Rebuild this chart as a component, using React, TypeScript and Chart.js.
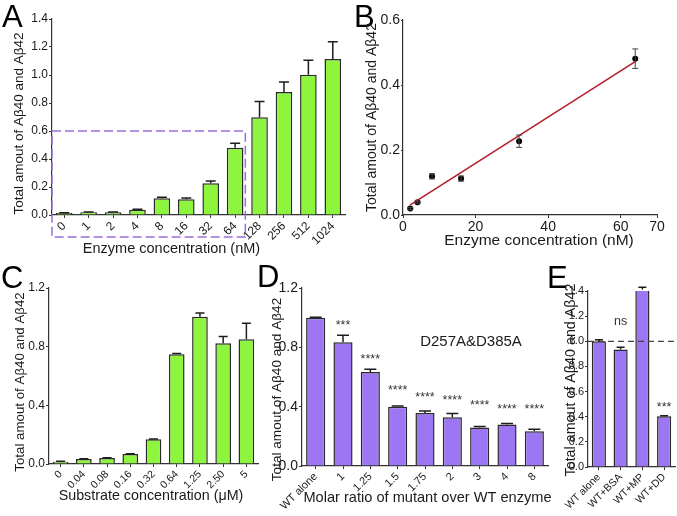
import React, { useEffect, useRef } from 'react';
import { Chart, registerables } from 'chart.js';
Chart.register(...registerables);

const W = 677;
const H = 516;
const FONT = "'Liberation Sans', Arial, Helvetica, sans-serif";
const GREEN = '#8ef53f';
const PURPLE = '#9d76f4';
const EDGE = '#2a2a2a';

// ---------- Panel A ----------
const aLabels = ['0', '1', '2', '4', '8', '16', '32', '64', '128', '256', '512', '1024'];
const aValues = [0.014, 0.02, 0.019, 0.038, 0.119, 0.112, 0.226, 0.481, 0.698, 0.879, 1.002, 1.114];
const aErrors = [0.002, 0.002, 0.002, 0.003, 0.007, 0.009, 0.017, 0.031, 0.112, 0.071, 0.103, 0.124];
const aBoxTop = 0.6;
const aBoxLastIndex = 7;

// ---------- Panel B ----------
const bDose = [2, 4, 8, 16, 32, 64];
const bValues = [0.02, 0.039, 0.119, 0.112, 0.227, 0.481];
const bErrors = [0.003, 0.003, 0.008, 0.008, 0.019, 0.03];
const bFitX = [2, 64];
const bFitY = [0.031, 0.472];
const bXTicks = [0, 20, 40, 60, 70];

// ---------- Panel C ----------
const cLabels = ['0', '0.04', '0.08', '0.16', '0.32', '0.64', '1.25', '2.50', '5'];
const cValues = [0.016, 0.034, 0.041, 0.068, 0.169, 0.748, 1.004, 0.824, 0.85];
const cErrors = [0.002, 0.002, 0.002, 0.002, 0.002, 0.006, 0.025, 0.046, 0.11];

// ---------- Panel D ----------
const dLabels = ['WT alone', '1', '1.25', '1.5', '1.75', '2', '3', '4', '8'];
const dValues = [1.0, 0.835, 0.634, 0.399, 0.357, 0.329, 0.259, 0.28, 0.234];
const dErrors = [0.003, 0.047, 0.018, 0.005, 0.013, 0.025, 0.007, 0.007, 0.013];
const dStars = ['', '***', '****', '****', '****', '****', '****', '****', '****'];
const dStarY = [0, 0.971, 0.742, 0.533, 0.486, 0.465, 0.432, 0.407, 0.407];

// ---------- Panel E ----------
const eLabels = ['WT alone', 'WT+BSA', 'WT+MP', 'WT+DD'];
const eValues = [1.0, 0.934, 1.411, 0.403];
const eErrors = [0.013, 0.018, 0.019, 0.005];
const eStars = ['', 'ns', '', '***'];
const eStarY = [0, 1.16, 0, 0.5];
const eRefValue = 1.0;

const AXX = 50; // reserved height of x axis box (labels are clipped to it)
const AXY = 45; // reserved width of y axis box
type Box = { l: number; t: number; r: number; b: number };
const xBoxH = (b: Box) => Math.min(AXX, H - b.b);
const padFor = (b: Box) => ({ left: b.l - AXY, top: b.t, right: W - b.r, bottom: H - b.b - xBoxH(b) });

function makeFit(b: Box) {
  return (axis: any) => {
    if (axis.isHorizontal()) axis.height = xBoxH(b);
    else axis.width = AXY;
    axis.paddingLeft = 0;
    axis.paddingRight = 0;
    axis.paddingTop = 0;
    axis.paddingBottom = 0;
  };
}

type TextItem = {
  text: string; x: number; y: number; size: number; rot?: number;
  align?: CanvasTextAlign; baseline?: CanvasTextBaseline; color?: string;
};

function textPlugin(items: TextItem[]) {
  return {
    id: 'texts',
    afterDraw(chart: any) {
      const ctx = chart.ctx as CanvasRenderingContext2D;
      items.forEach((it) => {
        ctx.save();
        ctx.font = `${it.size}px ${FONT}`;
        ctx.fillStyle = it.color || '#1a1a1a';
        ctx.textAlign = it.align || 'center';
        ctx.textBaseline = it.baseline || 'middle';
        ctx.translate(it.x, it.y);
        if (it.rot) ctx.rotate(it.rot);
        ctx.fillText(it.text, 0, 0);
        ctx.restore();
      });
    },
  };
}

function barErrorPlugin(errs: number[], cap: number, lw: number) {
  return {
    id: 'barErr',
    afterDatasetsDraw(chart: any) {
      const ctx = chart.ctx as CanvasRenderingContext2D;
      const meta = chart.getDatasetMeta(0);
      const ys = chart.scales.y;
      const vals = chart.data.datasets[0].data as number[];
      ctx.save();
      ctx.strokeStyle = '#1e1e1e';
      ctx.lineWidth = lw;
      meta.data.forEach((el: any, i: number) => {
        const y1 = ys.getPixelForValue(vals[i] + errs[i]);
        ctx.beginPath();
        ctx.moveTo(el.x, el.y);
        ctx.lineTo(el.x, y1);
        ctx.moveTo(el.x - cap / 2, y1);
        ctx.lineTo(el.x + cap / 2, y1);
        ctx.stroke();
      });
      ctx.restore();
    },
  };
}

function starPlugin(labels: string[], ys: number[], size: number, baselineK: number) {
  return {
    id: 'stars',
    afterDatasetsDraw(chart: any) {
      const ctx = chart.ctx as CanvasRenderingContext2D;
      const meta = chart.getDatasetMeta(0);
      const y = chart.scales.y;
      ctx.save();
      ctx.font = `${size}px ${FONT}`;
      ctx.fillStyle = '#333';
      ctx.textAlign = 'center';
      ctx.textBaseline = 'alphabetic';
      labels.forEach((s, i) => {
        if (!s) return;
        const py = y.getPixelForValue(ys[i]);
        const k = s === 'ns' ? 0.27 : baselineK;
        ctx.fillText(s, meta.data[i].x, py + k * size);
      });
      ctx.restore();
    },
  };
}

function yAxis(b: Box, max: number, step: number, size: number, tickLen = 3) {
  return {
    type: 'linear',
    min: 0,
    max,
    ticks: {
      stepSize: step,
      font: { size, family: FONT },
      color: '#1a1a1a',
      padding: 1,
      callback: (v: any) => Number(v).toFixed(1),
    },
    grid: { display: true, drawOnChartArea: false, drawTicks: true, tickLength: tickLen, color: '#333', lineWidth: 1 },
    border: { display: true, color: '#333', width: 1.2 },
    afterFit: makeFit(b),
  };
}

function xCat(b: Box, size: number) {
  return {
    type: 'category',
    offset: true,
    ticks: {
      autoSkip: false,
      minRotation: 45,
      maxRotation: 45,
      font: { size, family: FONT },
      color: '#1a1a1a',
      padding: 1,
    },
    grid: { display: true, drawOnChartArea: false, drawTicks: true, tickLength: 3, offset: false, color: '#333', lineWidth: 1 },
    border: { display: true, color: '#333', width: 1.2 },
    afterFit: makeFit(b),
  };
}

const baseOpts = (box: Box) => ({
  responsive: false,
  animation: false,
  events: [],
  layout: { padding: padFor(box) },
  plugins: { legend: { display: false }, tooltip: { enabled: false } },
});

const ROT = -Math.PI / 2;

export default function App() {
  const refs = [useRef<HTMLCanvasElement>(null), useRef<HTMLCanvasElement>(null), useRef<HTMLCanvasElement>(null), useRef<HTMLCanvasElement>(null), useRef<HTMLCanvasElement>(null)];

  useEffect(() => {
    const charts: Chart[] = [];

    // Panel A
    const boxA = { l: 52, t: 19, r: 345, b: 215 };
    const aRect = {
      id: 'aRect',
      afterDraw(chart: any) {
        const ctx = chart.ctx as CanvasRenderingContext2D;
        const x = chart.scales.x;
        const y = chart.scales.y;
        const left = chart.chartArea.left;
        const right = (x.getPixelForValue(aBoxLastIndex) + x.getPixelForValue(aBoxLastIndex + 1)) / 2 - 2;
        const top = y.getPixelForValue(aBoxTop);
        const bottom = chart.chartArea.bottom + 22;
        ctx.save();
        ctx.strokeStyle = '#9a6fdc';
        ctx.lineWidth = 1.5;
        ctx.setLineDash([9, 4]);
        ctx.strokeRect(left, top, right - left, bottom - top);
        ctx.restore();
      },
    };
    charts.push(new Chart(refs[0].current!, {
      type: 'bar',
      data: { labels: aLabels, datasets: [{ data: aValues, backgroundColor: GREEN, borderColor: EDGE, borderWidth: 1.5, barPercentage: 0.68, categoryPercentage: 1 }] },
      options: { ...baseOpts(boxA), scales: { x: xCat(boxA, 12), y: yAxis(boxA, 1.4, 0.2, 12) } } as any,
      plugins: [barErrorPlugin(aErrors, 10, 1.5), aRect, textPlugin([
        { text: 'A', x: 2, y: 27, size: 31, align: 'left', baseline: 'alphabetic', color: '#000' },
        { text: 'Total amout of Aβ40 and Aβ42', x: 19, y: 123.5, size: 13.5, rot: ROT },
        { text: 'Enzyme concentration (nM)', x: 171.5, y: 249, size: 14.5 },
      ])],
    }));

    // Panel B
    const boxB = { l: 403, t: 20, r: 657, b: 215 };
    const bErr = {
      id: 'bErr',
      afterDatasetsDraw(chart: any) {
        const ctx = chart.ctx as CanvasRenderingContext2D;
        const x = chart.scales.x;
        const y = chart.scales.y;
        ctx.save();
        ctx.strokeStyle = '#444';
        ctx.lineWidth = 1;
        bDose.forEach((d, i) => {
          const px = x.getPixelForValue(d);
          const y1 = y.getPixelForValue(bValues[i] + bErrors[i]);
          const y2 = y.getPixelForValue(bValues[i] - bErrors[i]);
          ctx.beginPath();
          ctx.moveTo(px, y1); ctx.lineTo(px, y2);
          ctx.moveTo(px - 3, y1); ctx.lineTo(px + 3, y1);
          ctx.moveTo(px - 3, y2); ctx.lineTo(px + 3, y2);
          ctx.stroke();
        });
        ctx.restore();
      },
    };
    charts.push(new Chart(refs[1].current!, {
      type: 'scatter',
      data: {
        datasets: [
          { type: 'line', data: bFitX.map((v, i) => ({ x: v, y: bFitY[i] })), borderColor: '#b51f2b', borderWidth: 1.6, pointRadius: 0, showLine: true, fill: false },
          { data: bDose.map((v, i) => ({ x: v, y: bValues[i] })), backgroundColor: '#000', borderColor: '#000', pointRadius: 3, pointBorderWidth: 0 },
        ],
      },
      options: {
        ...baseOpts(boxB),
        scales: {
          x: {
            type: 'linear', min: 0, max: 70,
            afterBuildTicks: (axis: any) => { axis.ticks = bXTicks.map((v) => ({ value: v })); },
            ticks: { font: { size: 14, family: FONT }, color: '#1a1a1a', padding: 1, maxRotation: 0 },
            grid: { display: true, drawOnChartArea: false, drawTicks: true, tickLength: 3, color: '#333' },
            border: { display: true, color: '#333', width: 1.2 },
            afterFit: makeFit(boxB),
          },
          y: yAxis(boxB, 0.6, 0.2, 14, 2),
        },
      } as any,
      plugins: [bErr, textPlugin([
        { text: 'B', x: 354, y: 27, size: 31, align: 'left', baseline: 'alphabetic', color: '#000' },
        { text: 'Total amout of Aβ40 and Aβ42', x: 372, y: 117.5, size: 14, rot: ROT },
        { text: 'Enzyme concentration (nM)', x: 539, y: 240.5, size: 15.5 },
      ])],
    }));

    // Panel C
    const boxC = { l: 49, t: 288, r: 258, b: 464 };
    charts.push(new Chart(refs[2].current!, {
      type: 'bar',
      data: { labels: cLabels, datasets: [{ data: cValues, backgroundColor: GREEN, borderColor: EDGE, borderWidth: 1.5, barPercentage: 0.675, categoryPercentage: 1 }] },
      options: { ...baseOpts(boxC), scales: { x: xCat(boxC, 10.5), y: yAxis(boxC, 1.2, 0.4, 12) } } as any,
      plugins: [barErrorPlugin(cErrors, 9, 1.5), textPlugin([
        { text: 'C', x: 1, y: 288, size: 31, align: 'left', baseline: 'alphabetic', color: '#000' },
        { text: 'Total amout of Aβ40 and Aβ42', x: 20, y: 382, size: 13.3, rot: ROT },
        { text: 'Substrate concentration (μM)', x: 151, y: 496, size: 14.3 },
      ])],
    }));

    // Panel D
    const boxD = { l: 302, t: 288, r: 548, b: 466 };
    charts.push(new Chart(refs[3].current!, {
      type: 'bar',
      data: { labels: dLabels, datasets: [{ data: dValues, backgroundColor: PURPLE, borderColor: EDGE, borderWidth: 1.5, barPercentage: 0.7, categoryPercentage: 1 }] },
      options: { ...baseOpts(boxD), scales: { x: xCat(boxD, 11), y: yAxis(boxD, 1.2, 0.4, 14) } } as any,
      plugins: [barErrorPlugin(dErrors, 12, 1.5), starPlugin(dStars, dStarY, 12.5, 0.57), textPlugin([
        { text: 'D', x: 257, y: 287, size: 31, align: 'left', baseline: 'alphabetic', color: '#000' },
        { text: 'Total amout of Aβ40 and Aβ42', x: 277, y: 389.5, size: 13.6, rot: ROT },
        { text: 'Molar ratio of mutant over WT enzyme', x: 427.5, y: 498, size: 14.6 },
        { text: 'D257A&D385A', x: 471, y: 342, size: 15 },
      ])],
    }));

    // Panel E
    const boxE = { l: 588, t: 291, r: 675, b: 467 };
    const eRef = {
      id: 'eRef',
      afterDatasetsDraw(chart: any) {
        const ctx = chart.ctx as CanvasRenderingContext2D;
        const py = chart.scales.y.getPixelForValue(eRefValue);
        ctx.save();
        ctx.strokeStyle = '#444';
        ctx.lineWidth = 1.3;
        ctx.setLineDash([6, 4]);
        ctx.beginPath();
        ctx.moveTo(chart.chartArea.left, py);
        ctx.lineTo(chart.width, py);
        ctx.stroke();
        ctx.restore();
      },
    };
    charts.push(new Chart(refs[4].current!, {
      type: 'bar',
      data: { labels: eLabels, datasets: [{ data: eValues, backgroundColor: PURPLE, borderColor: EDGE, borderWidth: 1.5, barPercentage: 0.65, categoryPercentage: 1 }] },
      options: { ...baseOpts(boxE), scales: { x: xCat(boxE, 10.5), y: yAxis(boxE, 1.4, 0.2, 11) } } as any,
      plugins: [eRef, barErrorPlugin(eErrors, 8, 1.5), starPlugin(eStars, eStarY, 12.5, 0.57), textPlugin([
        { text: 'E', x: 547, y: 288, size: 31, align: 'left', baseline: 'alphabetic', color: '#000' },
        { text: 'Total amout of Aβ40 and Aβ42', x: 571.5, y: 380, size: 14.3, rot: ROT },
      ])],
    }));

    return () => charts.forEach((c) => c.destroy());
  }, []);

  return (
    <div style={{ position: 'absolute', left: 0, top: 0, width: W, height: H, background: '#fff', overflow: 'hidden' }}>
      {refs.map((r, i) => (
        <canvas key={i} ref={r} width={W} height={H} style={{ position: 'absolute', left: 0, top: 0, width: W, height: H }} />
      ))}
    </div>
  );
}
